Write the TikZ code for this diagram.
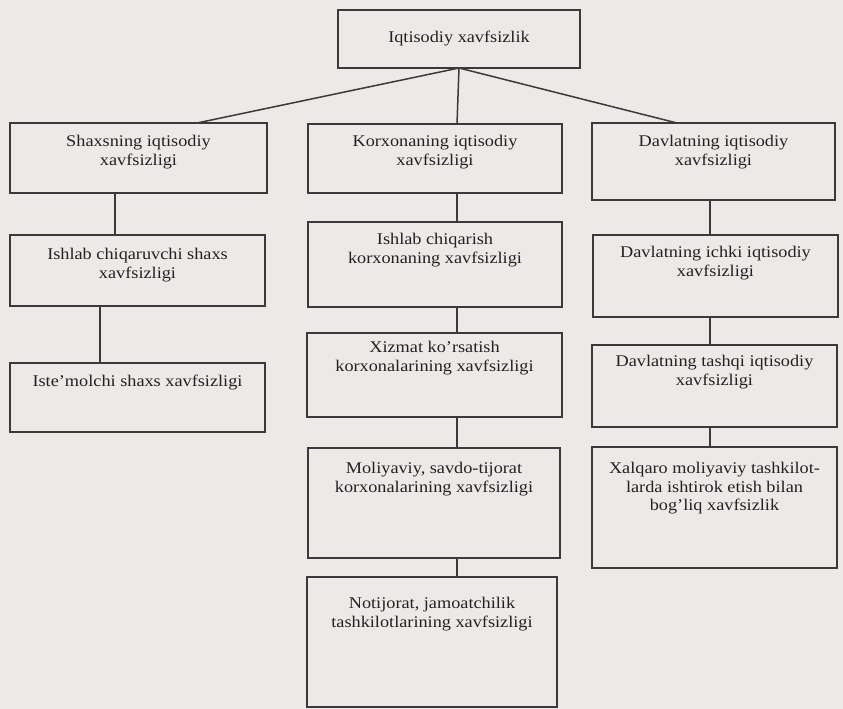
\documentclass[tikz,border=0pt]{standalone}
\usepackage{fontspec}
\setmainfont[FakeStretch=1.12]{Liberation Serif}
\definecolor{paper}{HTML}{EDE9E8}
\definecolor{ink}{HTML}{222222}
\definecolor{rule}{HTML}{3A3A3A}
\tikzset{
  boxst/.style={draw=rule, line width=1.5pt, rectangle, inner sep=0pt, outer sep=0pt},
  txtst/.style={inner sep=0pt, align=center, text=ink, font=\fontsize{16.3}{18.5}\selectfont},
  conn/.style={draw=rule, line width=1.5pt}
}
\newcommand\mkbox[7]{%
  \node[boxst, minimum width={#4-#2}, minimum height={#5-#3}, anchor=north west] (#1) at (#2,#3) {};
  \node[txtst, anchor=north] (#1t) at ({(#2+#4)/2},{#6-7}) {#7};}
\begin{document}
\begin{tikzpicture}[x=1pt,y=-1pt]
\fill[paper] (0,0) rectangle (843,709);
\useasboundingbox (0,0) rectangle (843,709);
% boxes
\node[boxst, minimum width=242, minimum height=58, anchor=north west] (Top) at (338,10) {};
\node[txtst] (Topt) at (Top.center) {Iqtisodiy xavfsizlik};
\mkbox{S1}{10}{123}{267}{193}{142}{Shaxsning iqtisodiy\\xavfsizligi}
\mkbox{K1}{308}{124}{562}{193}{142}{Korxonaning iqtisodiy\\xavfsizligi}
\mkbox{D1}{592}{123}{835}{200}{142}{Davlatning iqtisodiy\\xavfsizligi}
\mkbox{S2}{10}{235}{265}{306}{255}{Ishlab chiqaruvchi shaxs\\xavfsizligi}
\mkbox{K2}{308}{222}{562}{307}{240}{Ishlab chiqarish\\korxonaning xavfsizligi}
\mkbox{D2}{593}{235}{838}{317}{253}{Davlatning ichki iqtisodiy\\xavfsizligi}
\mkbox{S3}{10}{363}{265}{432}{382}{Iste’molchi shaxs xavfsizligi}
\mkbox{K3}{307}{333}{562}{417}{348}{Xizmat ko’rsatish\\korxonalarining xavfsizligi}
\mkbox{D3}{592}{345}{837}{427}{362}{Davlatning tashqi iqtisodiy\\xavfsizligi}
\mkbox{K4}{308}{448}{560}{558}{469}{Moliyaviy, savdo-tijorat\\korxonalarining xavfsizligi}
\mkbox{D4}{592}{447}{837}{568}{469}{Xalqaro moliyaviy tashkilot-\\larda ishtirok etish bilan\\bog’liq xavfsizlik}
\mkbox{K5}{307}{577}{557}{707}{604}{Notijorat, jamoatchilik\\tashkilotlarining xavfsizligi}
% connector columns
\coordinate (xa) at (197,0);
\coordinate (xb) at (677,0);
\coordinate (xs) at (115,0);
\coordinate (xt) at (100,0);
\coordinate (xk) at (457,0);
\coordinate (xd) at (710,0);
% connectors
\draw[conn] (Top.south) -- (S1.north -| xa);
\draw[conn] (Top.south) -- (K1.north -| xk);
\draw[conn] (Top.south) -- (D1.north -| xb);
\draw[conn] (S1.south -| xs) -- (S2.north -| xs);
\draw[conn] (S2.south -| xt) -- (S3.north -| xt);
\draw[conn] (K1.south -| xk) -- (K2.north -| xk);
\draw[conn] (K2.south -| xk) -- (K3.north -| xk);
\draw[conn] (K3.south -| xk) -- (K4.north -| xk);
\draw[conn] (K4.south -| xk) -- (K5.north -| xk);
\draw[conn] (D1.south -| xd) -- (D2.north -| xd);
\draw[conn] (D2.south -| xd) -- (D3.north -| xd);
\draw[conn] (D3.south -| xd) -- (D4.north -| xd);
\end{tikzpicture}
\end{document}
